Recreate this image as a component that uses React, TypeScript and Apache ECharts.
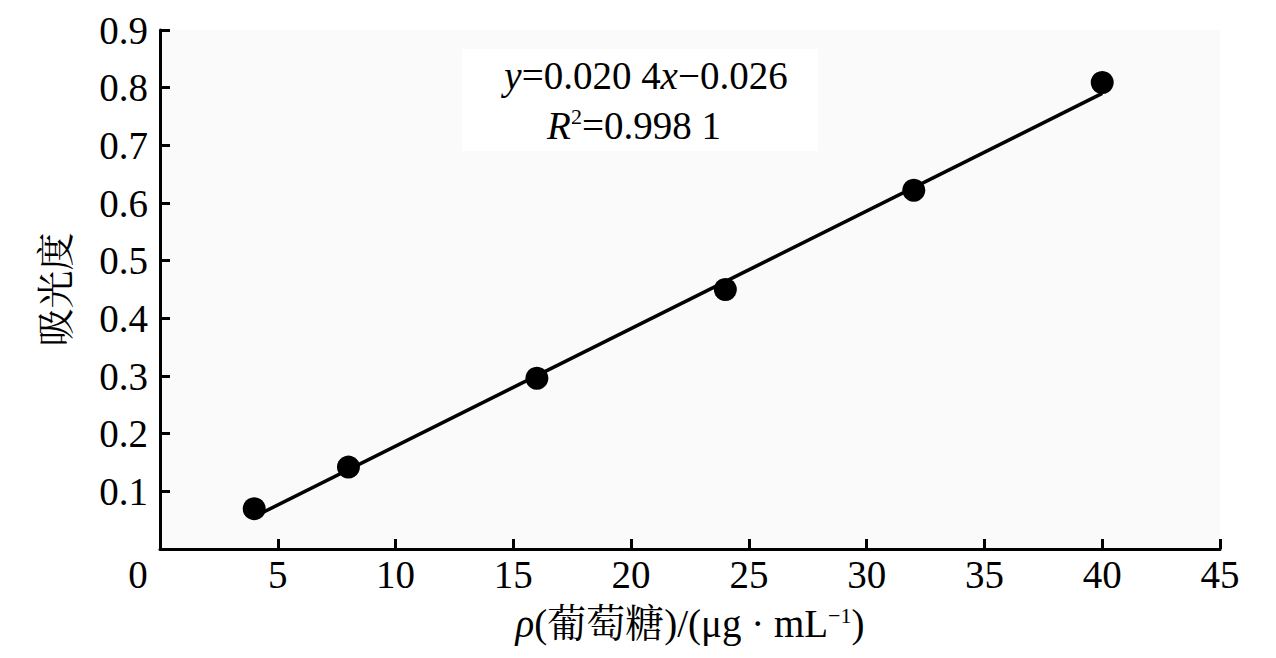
import React, { useEffect, useRef } from "react";
import * as echarts from "echarts";

const concentration = [4, 8, 16, 24, 32, 40];
const absorbance = [0.07, 0.142, 0.296, 0.45, 0.622, 0.809];
const fitX = [4, 40];
const fitY = [0.056, 0.79];
const xTicks = [0, 5, 10, 15, 20, 25, 30, 35, 40, 45];
const yTicks = [0.1, 0.2, 0.3, 0.4, 0.5, 0.6, 0.7, 0.8, 0.9];

const SERIF = "Liberation Serif, Noto Serif CJK SC, Noto Sans CJK SC, serif";
const FS = 39;

export default function App() {
  const ref = useRef<HTMLDivElement>(null);
  useEffect(() => {
    if (!ref.current) return;
    const chart = echarts.init(ref.current, undefined, { renderer: "svg" });
    const base = { fontFamily: SERIF, fontSize: FS, color: "#000" };
    chart.setOption({
      animation: false,
      backgroundColor: "#fff",
      grid: {
        left: 160,
        right: 56,
        top: 30,
        bottom: 109,
        show: true,
        backgroundColor: "#fafafa",
        borderWidth: 0,
      },
      xAxis: {
        type: "value",
        min: xTicks[0],
        max: xTicks[xTicks.length - 1],
        interval: 5,
        axisLine: { lineStyle: { color: "#000", width: 3 } },
        axisTick: { inside: true, length: 10, lineStyle: { color: "#000", width: 3 } },
        splitLine: { show: false },
        axisLabel: {
          ...base,
          margin: 6,
          formatter: (v: number) => (v === 0 ? "{o|0}" : String(v)),
          rich: { o: { ...base, padding: [0, 44, 0, 0] } },
        },
        name: "{i|ρ}(葡萄糖)/(μg · mL{sup|−1})",
        nameLocation: "middle",
        nameGap: 55,
        nameTextStyle: {
          ...base,
          rich: {
            i: { ...base, fontStyle: "italic" },
            sup: { ...base, fontSize: 22, verticalAlign: "top" },
          },
        },
      },
      yAxis: {
        type: "value",
        min: 0,
        max: yTicks[yTicks.length - 1],
        interval: 0.1,
        axisLine: { lineStyle: { color: "#000", width: 3 } },
        axisTick: { inside: true, length: 10, lineStyle: { color: "#000", width: 3 } },
        splitLine: { show: false },
        axisLabel: {
          ...base,
          margin: 12,
          showMinLabel: false,
          formatter: (v: number) => (v === 0 ? "" : v.toFixed(1)),
        },
        name: "吸光度",
        nameLocation: "middle",
        nameGap: 85,
        nameTextStyle: { ...base, fontSize: 38 },
      },
      graphic: [
        {
          type: "rect",
          shape: { x: 462, y: 49, width: 356, height: 102 },
          style: { fill: "#fff" },
          z: 10,
        },
        {
          type: "text",
          x: 646,
          y: 75,
          z: 11,
          style: {
            text: "{i|y}=0.020 4{i|x}−0.026",
            fontFamily: SERIF,
            fontSize: FS,
            fill: "#000",
            align: "center",
            verticalAlign: "middle",
            rich: {
              n: { fontFamily: SERIF, fontSize: FS, fill: "#000" },
              i: { fontFamily: SERIF, fontSize: FS, fontStyle: "italic", fill: "#000" },
            },
          },
        },
        {
          type: "text",
          x: 634,
          y: 125,
          z: 11,
          style: {
            text: "{i|R}{sup|2}=0.998 1",
            fontFamily: SERIF,
            fontSize: FS,
            fill: "#000",
            align: "center",
            verticalAlign: "middle",
            rich: {
              i: { fontFamily: SERIF, fontSize: FS, fontStyle: "italic", fill: "#000" },
              sup: { fontFamily: SERIF, fontSize: 22, fill: "#000", verticalAlign: "top" },
            },
          },
        },
      ],
      series: [
        {
          type: "line",
          data: fitX.map((x, i) => [x, fitY[i]]),
          symbol: "none",
          lineStyle: { color: "#000", width: 3.5 },
          z: 2,
        },
        {
          type: "scatter",
          data: concentration.map((x, i) => [x, absorbance[i]]),
          symbol: "circle",
          symbolSize: 23,
          itemStyle: { color: "#000", opacity: 1 },
          z: 3,
        },
      ],
    });
    return () => chart.dispose();
  }, []);
  return (
    <div
      ref={ref}
      style={{ position: "absolute", left: 0, top: 0, width: 1276, height: 658 }}
    />
  );
}
